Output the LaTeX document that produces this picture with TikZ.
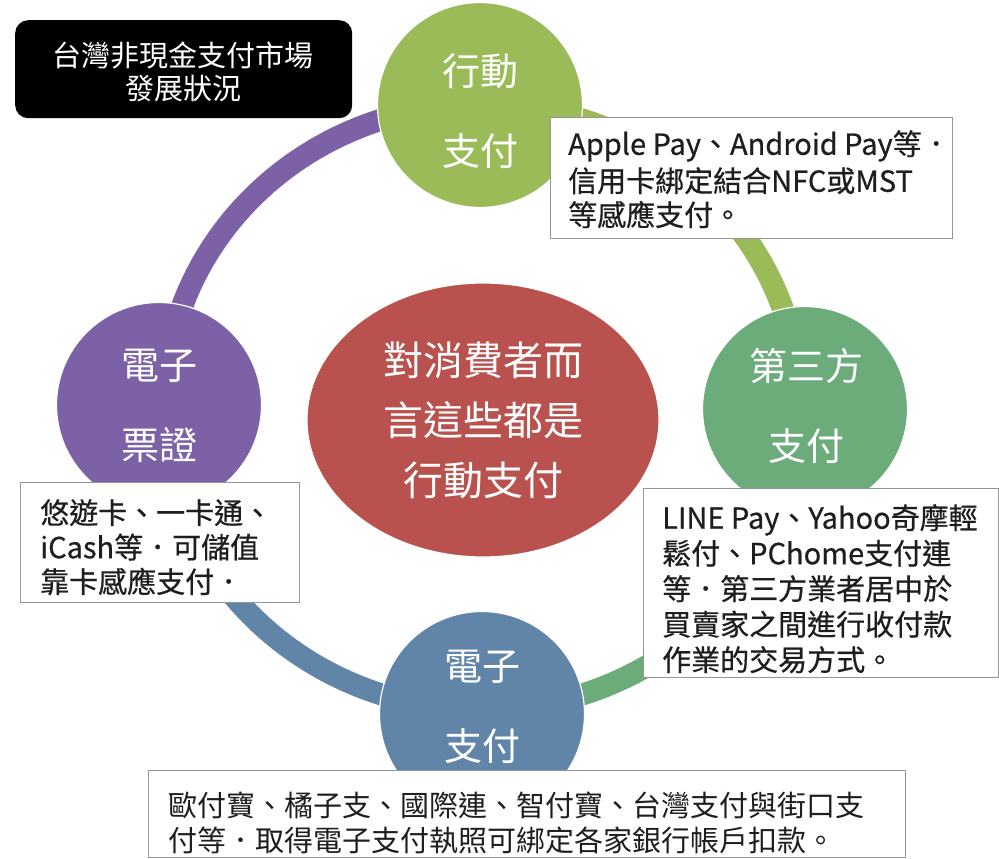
\documentclass[tikz,border=0pt]{standalone}
\usepackage{fontspec}
\setmainfont{Noto Sans CJK TC}
\newfontfamily\boxfont{Noto Sans CJK TC}[FakeBold=0.6]
\usetikzlibrary{shapes.geometric}
\definecolor{cTop}{RGB}{155,187,89}
\definecolor{cRight}{RGB}{107,172,122}
\definecolor{cBottom}{RGB}{96,133,168}
\definecolor{cLeft}{RGB}{125,97,166}
\definecolor{cCenter}{RGB}{185,82,78}
\definecolor{txt}{RGB}{30,30,30}
\definecolor{boxline}{RGB}{150,150,150}
\begin{document}
\begin{tikzpicture}[x=1pt,y=-1pt,
  ring/.style={line width=22pt},
  bubble/.style={circle, minimum size=205pt, inner sep=0pt, draw=white, line width=1.2pt},
  bubbletext/.style={text=white, align=center, inner sep=0pt, font=\fontsize{38}{80}\selectfont},
  infobox/.style={draw=boxline, line width=1pt, fill=white, rectangle, inner sep=0pt, anchor=north west},
  infotext/.style={anchor=north west, align=left, text=txt, inner sep=0pt, font=\boxfont\fontsize{29}{36}\selectfont}]
\useasboundingbox (0,0) rectangle (999,859);
\fill[white] (0,0) rectangle (999,859);

% ring segments
\draw[ring, cLeft]   plot[domain=180:270, samples=60] ({482+318*cos(\x)},{407+303*sin(\x)});
\draw[ring, cTop]    plot[domain=270:360, samples=60] ({482+318*cos(\x)},{407+303*sin(\x)});
\draw[ring, cRight]  plot[domain=0:90,    samples=60] ({482+318*cos(\x)},{407+303*sin(\x)});
\draw[ring, cBottom] plot[domain=90:180,  samples=60] ({482+318*cos(\x)},{407+303*sin(\x)});

% circles
\node[bubble, fill=cTop]    (top)    at (480,105) {};
\node[bubble, fill=cRight]  (right)  at (805,409) {};
\node[bubble, fill=cBottom] (bottom) at (482,714) {};
\node[bubble, fill=cLeft]   (left)   at (159,405) {};
\node[bubbletext] (toptxt)    at (480,111) {行動\\支付};
\node[bubbletext] (righttxt)  at (806,406) {第三方\\支付};
\node[bubbletext] (bottomtxt) at (482,707) {電子\\支付};
\node[bubbletext] (lefttxt)   at (159,406) {電子\\票證};

% center ellipse
\node[ellipse, fill=cCenter, draw=white, line width=1.2pt, minimum width=352pt, minimum height=274pt,
      text=white, align=center, font=\fontsize{40}{60}\selectfont] (center) at (483,420)
      {對消費者而\\言這些都是\\行動支付};

% info boxes
\node[infobox, minimum width=402pt, minimum height=121pt] (applebox) at (550,117) {};
\node[infotext] (appletxt) at (568,130) {Apple Pay、Android Pay等．\\[1pt]信用卡綁定結合NFC或MST\\[-2pt]等感應支付。};

\node[infobox, minimum width=279pt, minimum height=120pt] (ticketbox) at (20,482) {};
\node[infotext, font=\boxfont\fontsize{29}{34.5}\selectfont] (tickettxt) at (40,499) {悠遊卡、一卡通、\\iCash等．可儲值\\靠卡感應支付．};

\node[infobox, minimum width=355pt, minimum height=189pt] (thirdbox) at (643,488) {};
\node[infotext, font=\boxfont\fontsize{29}{35.5}\selectfont] (thirdtxt) at (662,504) {LINE Pay、Yahoo奇摩輕\\鬆付、PChome支付連\\等．第三方業者居中於\\買賣家之間進行收付款\\作業的交易方式。};

\node[infobox, minimum width=757pt, minimum height=87pt] (epaybox) at (148,770) {};
\node[infotext, font=\fontsize{29}{35}\selectfont] (epaytxt) at (168,792) {歐付寶、橘子支、國際連、智付寶、台灣支付與街口支\\付等．取得電子支付執照可綁定各家銀行帳戶扣款。};

% title box
\node[fill=black, rounded corners=13pt, minimum width=337pt, minimum height=98pt, anchor=north west,
      inner sep=0pt] (titlebox) at (15,20) {};
\node[text=white, align=center, inner sep=0pt, font=\fontsize{29}{33}\selectfont] (titletxt) at (183,72)
      {台灣非現金支付市場\\發展狀況};
\end{tikzpicture}
\end{document}
